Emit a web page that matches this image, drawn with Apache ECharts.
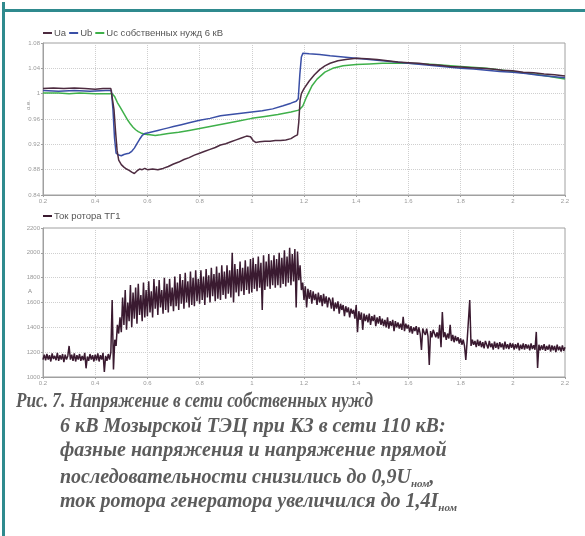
<!DOCTYPE html>
<html><head><meta charset="utf-8">
<script src="https://cdn.jsdelivr.net/npm/echarts@6/dist/echarts.min.js"></script>
<style>html,body{margin:0;padding:0;background:#fff}#c{width:585px;height:536px}</style>
</head><body><div id="c"></div>
<script>
// ---- Data ----
const xTicks = [0.2,0.4,0.6,0.8,1,1.2,1.4,1.6,1.8,2,2.2];
const uTicks = [0.84,0.88,0.92,0.96,1,1.04,1.08];
const iTicks = [1000,1200,1400,1600,1800,2000,2200];
const seriesNames = ['Ua','Ub','Uc собственных нужд 6 кВ'];
const currentName = 'Ток ротора ТГ1';

const uaData = [[0.2,1.008],[0.24,1.009],[0.28,1.008],[0.32,1.009],[0.36,1.008],[0.4,1.007],[0.43,1.008],[0.46,1.008],[0.466,1.006],[0.472,0.975],[0.478,0.94],[0.484,0.91],[0.49,0.895],[0.5,0.888],[0.51,0.884],[0.52,0.881],[0.53,0.879],[0.54,0.876],[0.55,0.874],[0.56,0.878],[0.57,0.881],[0.58,0.880],[0.59,0.882],[0.6,0.880],[0.62,0.881],[0.64,0.880],[0.66,0.882],[0.68,0.885],[0.7,0.889],[0.72,0.892],[0.74,0.896],[0.76,0.899],[0.78,0.903],[0.8,0.906],[0.82,0.909],[0.84,0.912],[0.86,0.915],[0.88,0.919],[0.9,0.921],[0.92,0.924],[0.94,0.927],[0.96,0.930],[0.98,0.933],[0.995,0.932],[1.005,0.926],[1.015,0.923],[1.03,0.924],[1.05,0.925],[1.07,0.925],[1.09,0.926],[1.11,0.926],[1.13,0.927],[1.15,0.929],[1.165,0.933],[1.175,0.935],[1.18,0.955],[1.185,0.99],[1.19,1.0],[1.2,1.008],[1.22,1.02],[1.24,1.03],[1.26,1.038],[1.28,1.044],[1.3,1.048],[1.33,1.052],[1.36,1.054],[1.4,1.056],[1.44,1.055],[1.48,1.054],[1.52,1.052],[1.56,1.050],[1.6,1.049],[1.64,1.048],[1.68,1.046],[1.72,1.045],[1.76,1.043],[1.8,1.042],[1.84,1.041],[1.88,1.040],[1.92,1.039],[1.96,1.037],[2.0,1.036],[2.04,1.034],[2.08,1.033],[2.12,1.031],[2.16,1.030],[2.2,1.028]];

const ubData = [[0.2,1.005],[0.26,1.004],[0.32,1.005],[0.38,1.004],[0.44,1.005],[0.462,1.005],[0.468,0.975],[0.474,0.93],[0.48,0.906],[0.49,0.903],[0.5,0.902],[0.51,0.904],[0.52,0.905],[0.53,0.906],[0.54,0.909],[0.55,0.914],[0.56,0.921],[0.57,0.928],[0.58,0.934],[0.59,0.937],[0.6,0.938],[0.62,0.940],[0.64,0.942],[0.66,0.944],[0.68,0.946],[0.7,0.948],[0.73,0.951],[0.76,0.954],[0.8,0.958],[0.84,0.961],[0.88,0.965],[0.92,0.967],[0.96,0.969],[1.0,0.971],[1.04,0.973],[1.08,0.976],[1.12,0.981],[1.15,0.985],[1.17,0.988],[1.178,0.992],[1.184,1.03],[1.19,1.058],[1.196,1.064],[1.22,1.063],[1.26,1.062],[1.3,1.060],[1.35,1.058],[1.4,1.056],[1.45,1.054],[1.5,1.052],[1.55,1.050],[1.6,1.048],[1.65,1.046],[1.7,1.044],[1.75,1.042],[1.8,1.040],[1.85,1.039],[1.9,1.037],[1.95,1.035],[2.0,1.034],[2.05,1.032],[2.1,1.029],[2.15,1.027],[2.2,1.025]];

const ucData = [[0.2,1.001],[0.26,1.001],[0.3,1.0],[0.34,1.001],[0.4,1.0],[0.44,1.0],[0.465,1.0],[0.475,0.995],[0.485,0.986],[0.495,0.979],[0.505,0.972],[0.515,0.965],[0.525,0.958],[0.535,0.952],[0.545,0.947],[0.555,0.943],[0.565,0.940],[0.575,0.938],[0.59,0.936],[0.61,0.935],[0.63,0.934],[0.65,0.935],[0.68,0.937],[0.72,0.939],[0.76,0.942],[0.8,0.945],[0.85,0.949],[0.9,0.953],[0.95,0.957],[1.0,0.961],[1.05,0.964],[1.1,0.967],[1.15,0.971],[1.18,0.974],[1.195,0.980],[1.21,0.995],[1.23,1.012],[1.25,1.023],[1.28,1.034],[1.31,1.040],[1.35,1.044],[1.4,1.046],[1.45,1.047],[1.5,1.048],[1.6,1.048],[1.7,1.046],[1.8,1.043],[1.9,1.040],[2.0,1.035],[2.1,1.030],[2.2,1.023]];

// rotor current, sampled every 0.005 s from 0.2 s
const curStart = 0.2, curStep = 0.005;
const curValues = [
1140,1180,1135,1185,1140,1175,1125,1190,1145,1170,1135,1195,1130,1175,1140,1185,1120,1180,1140,1170,
1250,1140,1180,1130,1190,1125,1175,1140,1185,1130,1170,1135,1195,1070,1165,1130,1185,1140,1175,1125,
1180,1135,1190,1125,1175,1140,1195,1040,1170,1130,1185,1140,1200,1620,1060,1300,1250,1420,1350,1480,
1360,1640,1420,1700,1380,1600,1450,1740,1400,1680,1470,1720,1430,1750,1500,1660,1450,1760,1480,1700,
1490,1770,1520,1690,1480,1790,1550,1730,1500,1780,1560,1700,1510,1800,1540,1750,1520,1790,1570,1720,
1530,1810,1570,1760,1540,1830,1590,1780,1550,1840,1600,1770,1560,1850,1580,1800,1570,1860,1610,1790,
1590,1860,1620,1810,1580,1870,1640,1820,1600,1880,1650,1830,1610,1890,1630,1840,1620,1900,1660,1850,
1630,1900,1670,1860,1640,2000,1600,1910,1680,1870,1650,1930,1690,1880,1660,1940,1700,1890,1670,1950,
1680,1960,1710,1910,1690,1970,1720,1920,1540,1980,1700,1930,1730,1990,1710,1940,1740,1980,1720,1950,
1740,2000,1720,1960,1750,2020,1730,1970,1760,2040,1740,1990,1770,2030,1560,2010,1780,1900,1700,1760,
1620,1730,1560,1710,1630,1700,1590,1690,1620,1670,1580,1680,1600,1660,1570,1670,1590,1650,1560,1640,
1620,1550,1640,1530,1600,1550,1610,1510,1590,1540,1580,1490,1570,1520,1560,1480,1550,1510,1540,1470,
1580,1360,1530,1460,1520,1380,1510,1450,1500,1440,1510,1420,1490,1450,1500,1410,1480,1430,1490,1420,
1470,1410,1460,1400,1480,1390,1450,1410,1460,1370,1450,1400,1440,1390,1430,1380,1484,1370,1430,1390,
1420,1360,1410,1350,1400,1370,1410,1340,1400,1350,1218,1390,1360,1340,1390,1330,1097,1370,1320,1380,
1370,1320,1360,1310,1420,1240,1524,1320,1360,1300,1350,1310,1420,1290,1340,1280,1330,1290,1320,1270,
1310,1260,1300,1250,1137,1290,1300,1620,1250,1300,1260,1290,1240,1300,1250,1290,1240,1280,1230,1290,
1280,1230,1290,1240,1270,1220,1285,1235,1275,1225,1280,1240,1270,1220,1285,1230,1265,1225,1275,1235,
1270,1220,1265,1230,1275,1215,1260,1225,1270,1220,1265,1230,1260,1215,1270,1225,1255,1220,1363,1073,
1260,1215,1255,1220,1265,1210,1250,1220,1260,1205,1255,1215,1250,1200,1260,1215,1245,1205,1255,1210,1240
];

const captionLines = [
  'Рис. 7. Напряжение в сети собственных нужд',
  '6 кВ Мозырской ТЭЦ при КЗ в сети 110 кВ:',
  'фазные напряжения и напряжение прямой',
  'последовательности снизились до 0,9U{s|ном},',
  'ток ротора генератора увеличился до 1,4I{s|ном}'
];

// ---- Chart ----
const curData = curValues.map((v,i)=>[+(curStart + i*curStep).toFixed(3), v]);
const colors = {ua:'#4d2b40', ub:'#3a4fa6', uc:'#3fb04a', cur:'#3a1a30'};
const tickFont = {fontSize:6, color:'#9a9a9a', fontFamily:'Liberation Sans'};

function xAxisCfg(gi){
  return {type:'value', gridIndex:gi, min:0.2, max:2.2, interval:0.2,
    axisLine:{show:true,lineStyle:{color:'#a0a0a0'}},
    axisTick:{show:true,length:2,lineStyle:{color:'#a0a0a0'}},
    axisLabel:Object.assign({margin:3, formatter:v=>String(+v.toFixed(1))}, tickFont),
    splitLine:{show:true,lineStyle:{color:'#cfcfcf',type:[1,1],width:1}}};
}
function yAxisCfg(gi,min,max,interval,fmt){
  return {type:'value', gridIndex:gi, min, max, interval,
    axisLine:{show:true,lineStyle:{color:'#a0a0a0'}},
    axisTick:{show:true,length:2,lineStyle:{color:'#a0a0a0'}},
    axisLabel:Object.assign({margin:3, formatter:fmt}, tickFont),
    splitLine:{show:true,lineStyle:{color:'#cfcfcf',type:[1,1],width:1}}};
}

const chart = echarts.init(document.getElementById('c'), null, {renderer:'canvas'});
const graphics = [
  {type:'rect', shape:{x:2,y:2,width:3,height:540}, style:{fill:'#2f8a8e'}, silent:true},
  {type:'rect', shape:{x:2,y:9,width:590,height:3}, style:{fill:'#2f8a8e'}, silent:true},
  {type:'text', left:25, top:100, rotation:Math.PI/2, style:{text:'о.е.', fill:'#888', font:'6px "Liberation Sans"'}},
  {type:'text', left:28, top:288, style:{text:'A', fill:'#888', font:'6px "Liberation Sans"'}}
];
captionLines.forEach((t,i)=>{
  graphics.push({type:'text', x: i===0 ? 16 : 60, y: 392 + i*24.5, scaleX: i===0 ? 0.86 : 1,
    style:{text:t, fill:'#5c5c5c', font:'italic bold 20px "Liberation Serif"',
      rich:{s:{font:'italic bold 11px "Liberation Serif"', fill:'#5c5c5c', padding:[13,0,0,0]}}}});
});

chart.setOption({
  animation:false,
  backgroundColor:'#fff',
  textStyle:{fontFamily:'Liberation Sans'},
  grid:[
    {left:43, top:43, width:522, height:152, show:true, borderColor:'#a0a0a0', borderWidth:1, backgroundColor:'transparent'},
    {left:43, top:228, width:522, height:149, show:true, borderColor:'#a0a0a0', borderWidth:1, backgroundColor:'transparent'}
  ],
  legend:[
    {left:38, top:23, itemWidth:9, itemHeight:2, itemGap:3, icon:'rect', data:seriesNames,
      textStyle:{fontSize:9.5, color:'#555', padding:[0,0,0,-3]}},
    {left:38, top:206, itemWidth:9, itemHeight:2, itemGap:3, icon:'rect', data:[currentName],
      textStyle:{fontSize:9.5, color:'#555', padding:[0,0,0,-3]}}
  ],
  xAxis:[xAxisCfg(0), xAxisCfg(1)],
  yAxis:[
    yAxisCfg(0,0.84,1.08,0.04,v=>String(+v.toFixed(2))),
    yAxisCfg(1,1000,2200,200,v=>String(v))
  ],
  series:[
    {name:seriesNames[0], type:'line', xAxisIndex:0, yAxisIndex:0, data:uaData, showSymbol:false, lineStyle:{color:colors.ua,width:1.5}, itemStyle:{color:colors.ua}, z:3},
    {name:seriesNames[1], type:'line', xAxisIndex:0, yAxisIndex:0, data:ubData, showSymbol:false, lineStyle:{color:colors.ub,width:1.5}, itemStyle:{color:colors.ub}, z:2},
    {name:seriesNames[2], type:'line', xAxisIndex:0, yAxisIndex:0, data:ucData, showSymbol:false, lineStyle:{color:colors.uc,width:1.5}, itemStyle:{color:colors.uc}, z:1},
    {name:currentName, type:'line', xAxisIndex:1, yAxisIndex:1, data:curData, showSymbol:false, sampling:false, lineStyle:{color:colors.cur,width:1.5}, itemStyle:{color:colors.cur}}
  ],
  graphic:graphics
});
</script></body></html>
